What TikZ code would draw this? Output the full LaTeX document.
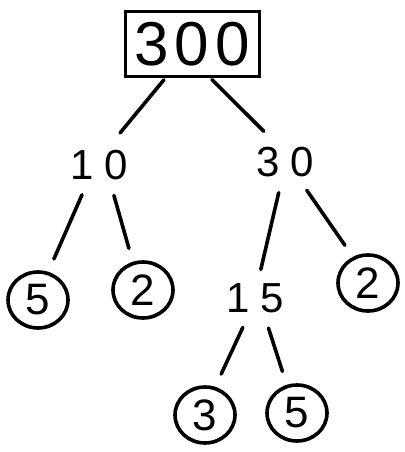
\documentclass[tikz,border=0pt]{standalone}
\usepackage{fontspec}
\setmainfont{Liberation Sans}
\usetikzlibrary{shapes.geometric}
\tikzset{
  ink/.style={line width=3.6pt, black, line cap=round},
  numtext/.style={font=\fontsize{42}{42}\selectfont\addfontfeatures{LetterSpace=25}, inner sep=0pt},
  rootbox/.style={draw, line width=3pt, minimum width=134pt, minimum height=64pt, inner sep=0pt,
    font=\fontsize{62}{62}\selectfont\addfontfeatures{LetterSpace=10}},
  leaf/.style={draw, ink, ellipse, minimum width=60pt, minimum height=56pt, inner sep=0pt,
    font=\fontsize{44}{44}\selectfont},
  branch/.style={ink, shorten <=16pt, shorten >=14pt},
}
\begin{document}
\begin{tikzpicture}[x=1pt,y=-1pt]
  \useasboundingbox[fill=white] (0,0) rectangle (404,452);
  % factor tree of 300
  \node[rootbox] (n300) at (192,44) {300};
  \node[numtext] (n10) at (99,165) {10};
  \node[numtext] (n30) at (285,162) {30};
  \node[leaf] (l5a) at (38,300) {5};
  \node[leaf] (l2a) at (143,290) {2};
  \node[numtext] (n15) at (255,298) {15};
  \node[leaf] (l2b) at (368,283) {2};
  \node[leaf] (l3) at (205,415) {3};
  \node[leaf] (l5b) at (297,413) {5};
  % branches
  \draw[branch, shorten <=3pt, shorten >=22pt] (n300.-128) -- (n10.65);
  \draw[branch, shorten <=3pt, shorten >=22pt] (n300.-62) -- (n30.110);
  \draw[branch] (n10.-125) -- (l5a.70);
  \draw[branch] (n10.-55) -- (l2a.110);
  \draw[branch] (n30.-100) -- (n15.80);
  \draw[branch] (n30.-50) -- (l2b.120);
  \draw[branch] (n15.-110) -- (l3.70);
  \draw[branch] (n15.-60) -- (l5b.110);
\end{tikzpicture}
\end{document}
